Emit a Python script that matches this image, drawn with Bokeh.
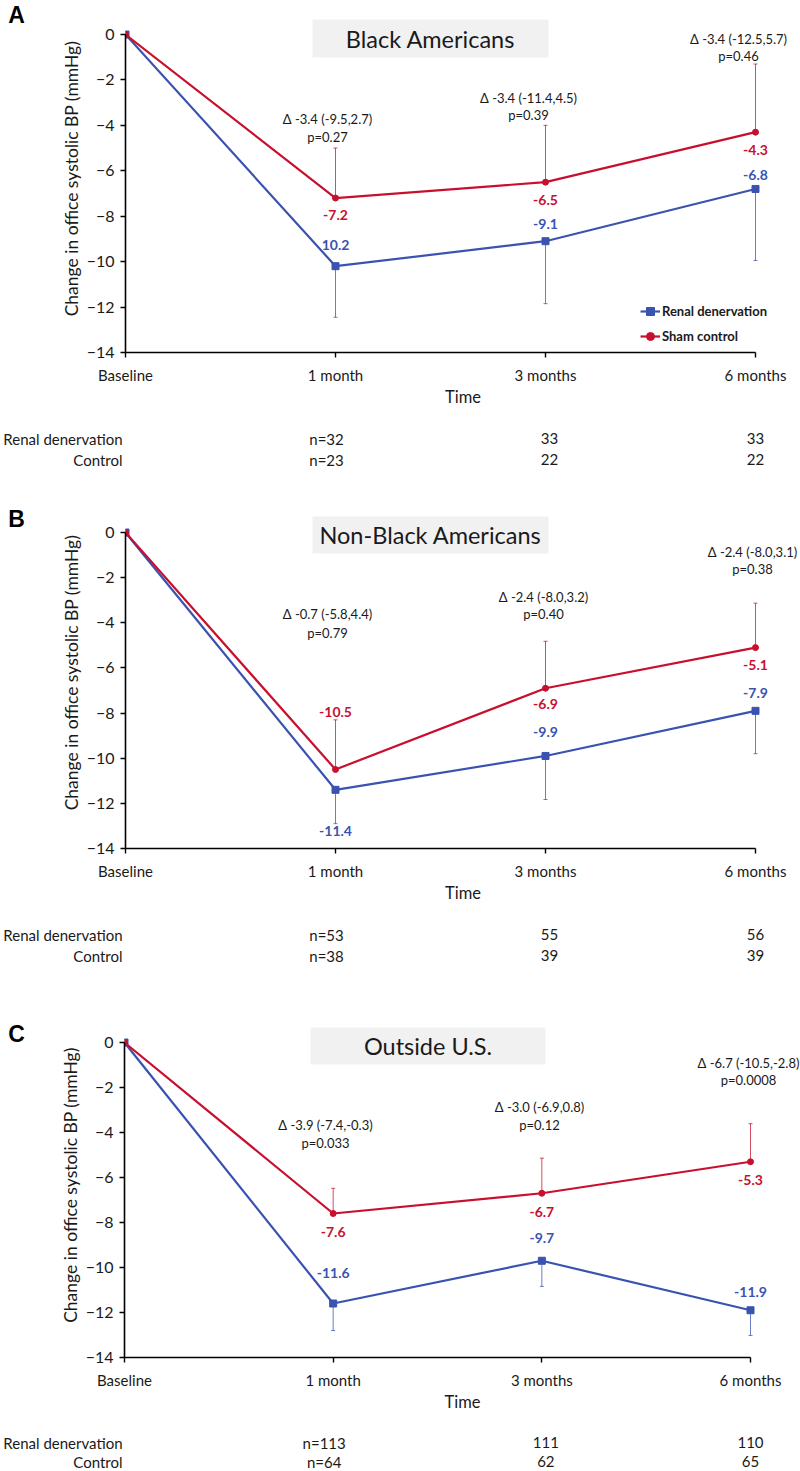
from bokeh.plotting import figure
from bokeh.models import (FixedTicker, Label, Legend, LegendItem, Whisker, TeeHead,
                          ColumnDataSource, Range1d, BoxAnnotation)
from bokeh.layouts import column, row
from bokeh.embed import file_html
from bokeh.resources import INLINE
from bokeh.core.properties import value

FONT = "Lato"
RED = "#C8102E"
BLUE = "#3A53B0"
TXT = "#1a1a1a"

# ---------------- data ----------------
time_labels = ["Baseline", "1 month", "3 months", "6 months"]
time_pos = [0, 1, 2, 3]
y_ticks = [0, -2, -4, -6, -8, -10, -12, -14]

panel_letters = ["A", "B", "C"]
panel_titles = ["Black Americans", "Non-Black Americans", "Outside U.S."]

# Panel A: Black Americans
rdn_A = [0, -10.2, -9.1, -6.8]
sham_A = [0, -7.2, -6.5, -4.3]
rdn_low_A = [-12.45, -11.85, -9.95]
sham_up_A = [-5.0, -4.0, -1.3]
rdn_lbl_A = ["10.2", "-9.1", "-6.8"]
sham_lbl_A = ["-7.2", "-6.5", "-4.3"]
delta_A = ["Δ -3.4 (-9.5,2.7)", "Δ -3.4 (-11.4,4.5)", "Δ -3.4 (-12.5,5.7)"]
pval_A = ["p=0.27", "p=0.39", "p=0.46"]
n_rdn_A = ["n=32", "33", "33"]
n_ctl_A = ["n=23", "22", "22"]

# Panel B: Non-Black Americans
rdn_B = [0, -11.4, -9.9, -7.9]
sham_B = [0, -10.5, -6.9, -5.1]
rdn_low_B = [-12.9, -11.83, -9.8]
sham_up_B = [-8.3, -4.82, -3.13]
rdn_lbl_B = ["-11.4", "-9.9", "-7.9"]
sham_lbl_B = ["-10.5", "-6.9", "-5.1"]
delta_B = ["Δ -0.7 (-5.8,4.4)", "Δ -2.4 (-8.0,3.2)", "Δ -2.4 (-8.0,3.1)"]
pval_B = ["p=0.79", "p=0.40", "p=0.38"]
n_rdn_B = ["n=53", "55", "56"]
n_ctl_B = ["n=38", "39", "39"]

# Panel C: Outside U.S.
rdn_C = [0, -11.6, -9.7, -11.9]
sham_C = [0, -7.6, -6.7, -5.3]
rdn_low_C = [-12.8, -10.84, -13.02]
sham_up_C = [-6.48, -5.14, -3.61]
rdn_lbl_C = ["-11.6", "-9.7", "-11.9"]
sham_lbl_C = ["-7.6", "-6.7", "-5.3"]
delta_C = ["Δ -3.9 (-7.4,-0.3)", "Δ -3.0 (-6.9,0.8)", "Δ -6.7 (-10.5,-2.8)"]
pval_C = ["p=0.033", "p=0.12", "p=0.0008"]
n_rdn_C = ["n=113", "111", "110"]
n_ctl_C = ["n=64", "62", "65"]

row_labels = ["Renal denervation", "Control"]
legend_labels = ["Renal denervation", "Sham control"]

# ---------------- layout (page pixels) ----------------
PAGE_W = 800
LET_W = 30
geo = [
    dict(top=0, main_h=420, rows_h=58, x0=125, x3=755, y0=34, y14=352, ftop=4,
         box=(312, 19, 548, 57), letter_y=13,
         dx=[327, 528, 738], dy1=[118, 97, 38], dy2=[136, 114, 55],
         rows_y=[438, 459],
         rdn_off=[-21, -17, -14], sham_off=[17, 17.5, 18]),
    dict(top=478, main_h=434, rows_h=88, x0=125, x3=755, y0=532, y14=848, ftop=496,
         box=(312, 516, 548, 553), letter_y=506,
         dx=[327, 543, 752], dy1=[613, 596, 551], dy2=[632, 613, 568],
         rows_y=[934, 955],
         rdn_off=[41, -24, -18], sham_off=[-58, 16, 17]),
    dict(top=1000, main_h=420, rows_h=50, x0=124, x3=750, y0=1042, y14=1357, ftop=1012,
         box=(310, 1027, 545, 1064), letter_y=1026,
         dx=[325, 539, 748], dy1=[1124, 1106, 1062], dy2=[1142, 1124, 1079],
         rows_y=[1442, 1461],
         rdn_off=[-31, -23, -18], sham_off=[18, 19, 18]),
]
n_col_off = [-9, 4, 0]

panels = [
    (rdn_A, sham_A, rdn_low_A, sham_up_A, rdn_lbl_A, sham_lbl_A, delta_A, pval_A, n_rdn_A, n_ctl_A),
    (rdn_B, sham_B, rdn_low_B, sham_up_B, rdn_lbl_B, sham_lbl_B, delta_B, pval_B, n_rdn_B, n_ctl_B),
    (rdn_C, sham_C, rdn_low_C, sham_up_C, rdn_lbl_C, sham_lbl_C, delta_C, pval_C, n_rdn_C, n_ctl_C),
]


def blank_fig(w, h):
    f = figure(width=w, height=h, x_range=Range1d(0, w), y_range=Range1d(h, 0),
               output_backend="svg", toolbar_location=None,
               x_axis_type=None, y_axis_type=None,
               min_border_left=0, min_border_right=0, min_border_top=0, min_border_bottom=0)
    f.title.visible = False
    f.outline_line_color = None
    f.grid.visible = False
    return f


def make_panel(i):
    g = geo[i]
    rdn, sham, rlow, sup, rlbl, slbl, dlt, pv, nr, nc = panels[i]
    ppx = (g["x3"] - g["x0"]) / 3.0
    ppy = (g["y14"] - g["y0"]) / 14.0

    def px2x(px):
        return (px - g["x0"]) / ppx

    def px2y(py):
        return -(py - g["y0"]) / ppy

    W = PAGE_W - LET_W
    p = figure(width=W, height=g["main_h"],
               x_range=Range1d(0, px2x(PAGE_W)),
               y_range=Range1d(-14, px2y(g["ftop"])),
               output_backend="svg", toolbar_location=None,
               min_border_left=g["x0"] - LET_W,
               min_border_right=0,
               min_border_top=g["ftop"] - g["top"],
               min_border_bottom=g["top"] + g["main_h"] - g["y14"])
    p.title.visible = False
    p.outline_line_color = None
    p.grid.visible = False
    p.background_fill_color = "white"
    p.border_fill_color = "white"

    # axes
    xa = p.xaxis[0]
    xa.ticker = FixedTicker(ticks=time_pos)
    xa.major_label_overrides = {t: l for t, l in zip(time_pos, time_labels)}
    xa.bounds = (0, 3)
    xa.axis_label = "Time"
    ya = p.yaxis[0]
    ya.ticker = FixedTicker(ticks=y_ticks)
    ya.bounds = (-14, 0)
    ya.axis_label = "Change in office systolic BP (mmHg)"
    for ax in (xa, ya):
        ax.axis_line_color = "black"
        ax.axis_line_width = 1.6
        ax.major_tick_line_color = "black"
        ax.major_tick_line_width = 1.4
        ax.major_tick_in = 0
        ax.major_tick_out = 5
        ax.minor_tick_line_color = None
        ax.major_label_text_font = FONT
        ax.major_label_text_color = TXT
        ax.axis_label_text_font = FONT
        ax.axis_label_text_font_style = "normal"
        ax.axis_label_text_color = TXT
        ax.axis_label_text_font_size = "16.5px"
    xa.major_label_text_font_size = "15px"
    xa.major_label_standoff = 8
    xa.axis_label_standoff = 0
    ya.major_label_text_font_size = "16px"
    ya.major_label_standoff = 6
    ya.axis_label_text_font_size = "17.5px"
    ya.axis_label_standoff = 2

    # title box
    bx = g["box"]
    p.add_layout(BoxAnnotation(left=px2x(bx[0]), right=px2x(bx[2]),
                               top=px2y(bx[1]), bottom=px2y(bx[3]),
                               fill_color="#f1f1f1", fill_alpha=1.0,
                               line_color=None, level="underlay"))
    p.add_layout(Label(x=px2x((bx[0] + bx[2]) / 2), y=px2y((bx[1] + bx[3]) / 2),
                       text=panel_titles[i], text_font=FONT, text_font_size="23.5px",
                       text_color=TXT, text_align="center", text_baseline="middle"))

    # error bars
    rsrc = ColumnDataSource(dict(x=time_pos[1:], v=rdn[1:], lo=rlow))
    ssrc = ColumnDataSource(dict(x=time_pos[1:], v=sham[1:], up=sup))
    p.add_layout(Whisker(base="x", lower="lo", upper="v", source=rsrc,
                         dimension="height", line_color=BLUE, line_alpha=0.75, line_width=1,
                         lower_head=TeeHead(size=4, line_color=BLUE, line_alpha=0.75, line_width=1),
                         upper_head=None))
    p.add_layout(Whisker(base="x", lower="v", upper="up", source=ssrc,
                         dimension="height", line_color=RED, line_alpha=0.75, line_width=1,
                         upper_head=TeeHead(size=4, line_color=RED, line_alpha=0.75, line_width=1),
                         lower_head=None))

    # series
    rl = p.line(time_pos, rdn, line_color=BLUE, line_width=2.2)
    rm = p.scatter(time_pos, rdn, marker="square", size=7, fill_color=BLUE, line_color=BLUE)
    sl = p.line(time_pos, sham, line_color=RED, line_width=2.2)
    sm = p.scatter(time_pos, sham, marker="circle", size=6, fill_color=RED, line_color=RED)

    # value labels
    p.text(x=time_pos[1:], y=rdn[1:], text=rlbl, y_offset=g["rdn_off"],
           text_font=value(FONT), text_font_style="bold", text_font_size="14px",
           text_color=BLUE, text_align="center", text_baseline="middle")
    p.text(x=time_pos[1:], y=sham[1:], text=slbl, y_offset=g["sham_off"],
           text_font=value(FONT), text_font_style="bold", text_font_size="14px",
           text_color=RED, text_align="center", text_baseline="middle")

    # difference annotations
    for k in range(3):
        for txt, yy in ((dlt[k], g["dy1"][k]), (pv[k], g["dy2"][k])):
            p.add_layout(Label(x=px2x(g["dx"][k]), y=px2y(yy), text=txt,
                               text_font=FONT, text_font_size="13px", text_color=TXT,
                               text_align="center", text_baseline="middle"))

    if i == 0:
        leg = Legend(items=[LegendItem(label=legend_labels[0], renderers=[rl, rm]),
                            LegendItem(label=legend_labels[1], renderers=[sl, sm])],
                     location=(515, 6), orientation="vertical",
                     label_text_font=FONT, label_text_font_style="bold",
                     label_text_font_size="13px", label_text_color=TXT,
                     glyph_width=20, glyph_height=20, label_height=20,
                     label_standoff=2, spacing=5, padding=0, margin=0,
                     background_fill_alpha=0, border_line_color=None)
        p.add_layout(leg)

    # panel letter (left strip)
    lf = blank_fig(LET_W, g["main_h"])
    lf.text(x=[16], y=[g["letter_y"] - g["top"]], text=[panel_letters[i]],
            text_font=value("Liberation Sans"), text_font_style="bold",
            text_font_size="23px", text_color="black",
            text_align="center", text_baseline="middle")

    # sample-size rows (below)
    rtop = g["top"] + g["main_h"]
    rf = blank_fig(PAGE_W, g["rows_h"])
    row_y = [yy - rtop for yy in g["rows_y"]]
    rf.text(x=[122, 122], y=row_y, text=row_labels,
            text_font=value(FONT), text_font_size="15px", text_color=TXT,
            text_align="right", text_baseline="middle")
    col_x = [g["x0"] + t * ppx + o for t, o in zip(time_pos[1:], n_col_off)]
    for yy, vals in zip(row_y, (nr, nc)):
        rf.text(x=col_x, y=[yy] * 3, text=vals,
                text_font=value(FONT), text_font_size="15px", text_color=TXT,
                text_align="center", text_baseline="middle")

    return column(row(lf, p, spacing=0), rf, spacing=0)


layout = column(*[make_panel(i) for i in range(3)], spacing=0)
open("out.html", "w").write(file_html(layout, INLINE))
